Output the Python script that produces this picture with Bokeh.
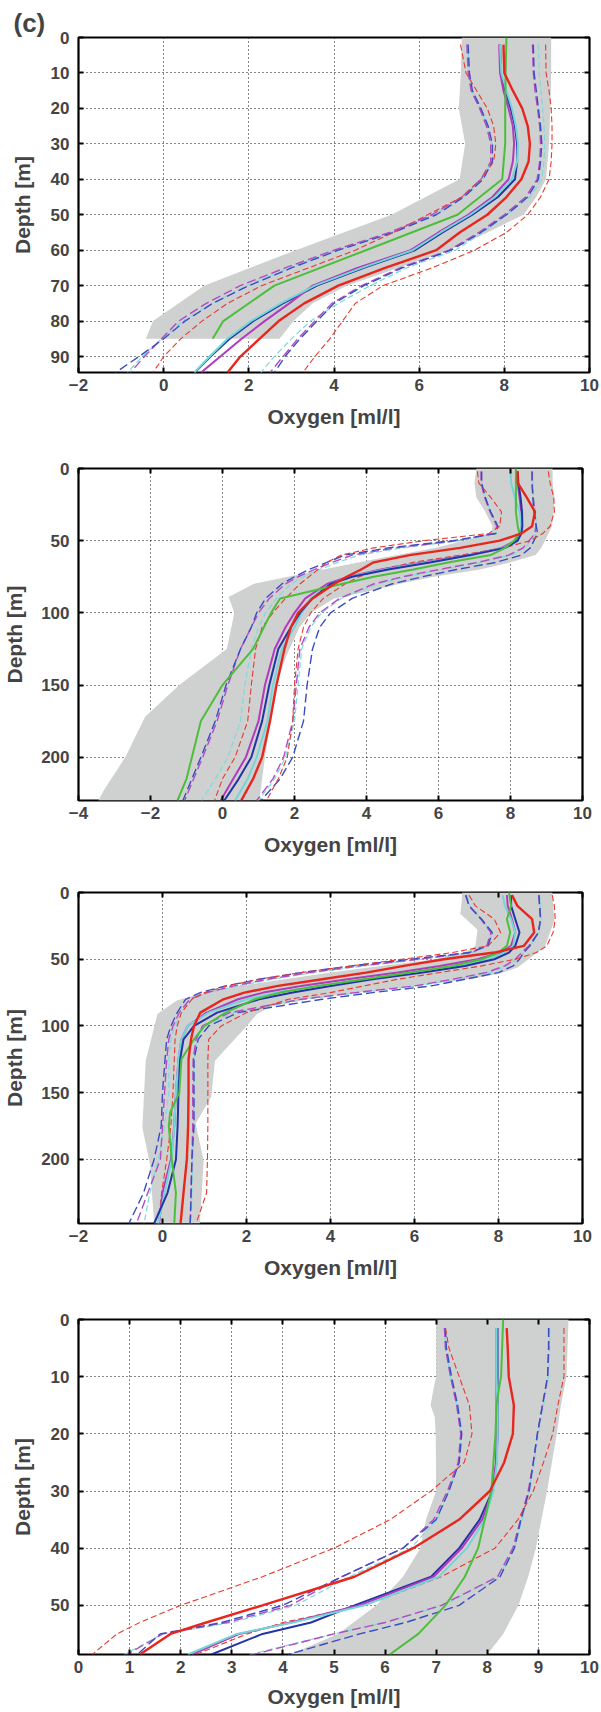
from bokeh.plotting import figure
from bokeh.models import Range1d, FixedTicker, LinearAxis
from bokeh.layouts import column
from bokeh.embed import file_html
from bokeh.resources import INLINE

# ---------------- Panel 1 ----------------
P1_DEPTH = [2, 10, 15, 20, 25, 30, 35, 40, 45, 50, 55, 60, 65, 70, 75, 80, 85, 90, 94.5]
P1_RED = [7.98, 8.0, 8.2, 8.42, 8.55, 8.6, 8.57, 8.4, 8.05, 7.6, 6.95, 6.4, 5.2, 4.1, 3.3, 2.7, 2.25, 1.8, 1.5]
P1_CYAN = [7.9, 7.93, 8.05, 8.18, 8.27, 8.32, 8.3, 8.18, 7.78, 7.2, 6.5, 5.85, 4.65, 3.55, 2.75, 2.05, 1.5, 1.08, 0.72]
P1_MAGENTA = [7.88, 7.9, 7.98, 8.1, 8.2, 8.23, 8.2, 8.1, 7.72, 7.15, 6.45, 5.8, 4.55, 3.5, 2.95, 2.37, 1.83, 1.33, 0.88]
P1_BLUE = [7.9, 7.92, 8.02, 8.15, 8.25, 8.3, 8.3, 8.25, 7.85, 7.25, 6.55, 5.9, 4.7, 3.6, 2.8, 2.1, 1.55, 1.1, 0.73]
P1_GREEN_DEPTH = [0, 10, 20, 30, 40, 50, 60, 70, 80, 85]
P1_GREEN = [8.05, 8.03, 8.02, 8.02, 7.95, 6.9, 4.75, 2.6, 1.4, 1.15]
P1_RED_LO = [6.97, 7.1, 7.35, 7.6, 7.75, 7.8, 7.75, 7.45, 7.0, 6.2, 5.4, 4.5, 3.4, 2.3, 1.5, 0.9, 0.4, 0.0, -0.25]
P1_BLUE_LO = [7.15, 7.18, 7.25, 7.45, 7.62, 7.72, 7.72, 7.5, 7.05, 6.4, 5.4, 4.1, 3.0, 2.0, 1.15, 0.5, 0.0, -0.58, -1.13]
P1_MAGENTA_LO = [7.12, 7.15, 7.22, 7.42, 7.58, 7.68, 7.68, 7.45, 7.0, 6.3, 5.3, 4.0, 2.85, 1.8, 1.0, 0.35, -0.05, -0.45, -0.78]
P1_CYAN_LO = [7.15, 7.17, 7.24, 7.44, 7.6, 7.7, 7.7, 7.48, 7.03, 6.35, 5.35, 4.05, 2.95, 1.95, 1.15, 0.45, -0.05, -0.5, -0.85]
P1_RED_HI = [8.97, 8.98, 9.05, 9.1, 9.12, 9.12, 9.1, 9.05, 8.85, 8.55, 8.05, 7.3, 6.3, 5.15, 4.5, 4.2, 3.9, 3.55, 3.27]
P1_BLUE_HI = [8.68, 8.7, 8.75, 8.8, 8.85, 8.88, 8.85, 8.8, 8.55, 8.05, 7.45, 6.75, 5.6, 4.7, 4.0, 3.6, 3.2, 2.85, 2.6]
P1_MAGENTA_HI = [8.66, 8.68, 8.72, 8.78, 8.83, 8.85, 8.83, 8.77, 8.5, 8.0, 7.4, 6.7, 5.55, 4.65, 3.95, 3.55, 3.15, 2.8, 2.5]
P1_CYAN_HI = [8.8, 8.82, 8.86, 8.9, 8.93, 8.95, 8.93, 8.88, 8.6, 8.05, 7.5, 6.85, 5.7, 4.85, 4.1, 3.45, 3.0, 2.6, 2.28]
P1_BAND_LO_DEPTH = [0, 10, 20, 30, 40, 50, 60, 70, 80, 85]
P1_BAND_LO = [7.0, 6.98, 6.93, 7.08, 6.95, 5.35, 3.1, 0.95, -0.25, -0.42]
P1_BAND_HI_DEPTH = [0, 10, 20, 30, 40, 45, 50, 55, 60, 65, 70, 75, 80, 85]
P1_BAND_HI = [9.1, 9.1, 9.08, 9.05, 8.98, 8.75, 8.45, 7.6, 6.7, 5.5, 4.3, 3.5, 3.05, 2.72]
P1_XTICKS = [-2, 0, 2, 4, 6, 8, 10]
P1_YTICKS = [0, 10, 20, 30, 40, 50, 60, 70, 80, 90]

# ---------------- Panel 2 ----------------
P2_DEPTH = [2, 10, 20, 30, 40, 45, 50, 55, 60, 65, 70, 75, 80, 90, 100, 110, 125, 150, 175, 200, 215, 230]
P2_RED = [8.2, 8.2, 8.45, 8.68, 8.6, 8.3, 7.7, 6.6, 5.2, 4.2, 3.85, 3.45, 3.1, 2.5, 2.1, 1.9, 1.72, 1.5, 1.32, 1.1, 0.85, 0.52]
P2_BLUE = [8.2, 8.22, 8.28, 8.32, 8.33, 8.3, 8.2, 7.85, 6.9, 5.8, 4.6, 3.6, 3.0, 2.5, 2.15, 1.9, 1.55, 1.3, 1.1, 0.8, 0.45, 0.05]
P2_MAGENTA = [8.18, 8.2, 8.25, 8.3, 8.3, 8.27, 8.15, 7.75, 6.85, 5.6, 4.4, 3.5, 2.9, 2.3, 2.0, 1.75, 1.45, 1.18, 1.0, 0.65, 0.3, -0.05]
P2_CYAN = [8.0, 8.02, 8.12, 8.25, 8.3, 8.28, 8.2, 7.8, 6.95, 5.7, 4.5, 3.55, 3.0, 2.45, 2.2, 2.0, 1.65, 1.4, 1.25, 0.95, 0.7, 0.35]
P2_GREEN_DEPTH = [0, 10, 20, 30, 40, 45, 50, 55, 60, 65, 70, 75, 80, 90, 100, 110, 125, 150, 175, 200, 215, 230]
P2_GREEN = [8.15, 8.15, 8.15, 8.15, 8.2, 8.25, 8.1, 7.85, 7.45, 6.3, 5.3, 4.2, 3.3, 1.6, 1.35, 1.15, 0.85, 0.0, -0.6, -0.85, -1.0, -1.25]
P2_RED_LO = [7.08, 7.12, 7.45, 7.75, 7.7, 7.4, 5.6, 4.2, 3.3, 2.9, 2.65, 2.4, 2.15, 1.75, 1.4, 1.1, 0.92, 0.8, 0.7, 0.35, 0.0, -0.22]
P2_BLUE_LO = [7.2, 7.2, 7.3, 7.45, 7.65, 7.6, 6.4, 4.6, 3.4, 2.9, 2.4, 2.0, 1.65, 1.2, 0.95, 0.8, 0.5, 0.1, -0.2, -0.6, -0.85, -1.1]
P2_MAGENTA_LO = [7.18, 7.18, 7.28, 7.43, 7.62, 7.55, 6.5, 4.8, 3.6, 3.05, 2.55, 2.1, 1.75, 1.3, 1.0, 0.8, 0.5, 0.15, -0.15, -0.55, -0.8, -1.05]
P2_CYAN_LO = [7.15, 7.2, 7.3, 7.45, 7.62, 7.6, 6.6, 5.0, 3.8, 3.2, 2.7, 2.25, 1.9, 1.5, 1.2, 1.0, 0.8, 0.62, 0.5, 0.15, -0.2, -0.58]
P2_RED_HI = [9.05, 9.1, 9.2, 9.22, 9.1, 8.9, 8.55, 7.8, 6.6, 5.3, 4.4, 3.8, 3.4, 2.8, 2.45, 2.25, 2.1, 2.0, 1.95, 1.8, 1.55, 1.22]
P2_BLUE_HI = [8.6, 8.6, 8.62, 8.65, 8.72, 8.75, 8.65, 8.55, 8.3, 7.6, 6.5, 5.55, 4.7, 3.6, 3.0, 2.7, 2.5, 2.35, 2.25, 1.95, 1.6, 1.07]
P2_MAGENTA_HI = [8.6, 8.6, 8.63, 8.68, 8.7, 8.68, 8.52, 8.35, 7.95, 7.1, 6.0, 5.0, 4.2, 3.25, 2.7, 2.4, 2.15, 2.05, 1.95, 1.7, 1.4, 0.95]
P2_CYAN_HI = [8.62, 8.62, 8.65, 8.7, 8.72, 8.7, 8.55, 8.4, 8.0, 7.2, 6.1, 5.1, 4.3, 3.3, 2.75, 2.45, 2.2, 2.1, 2.0, 1.75, 1.45, 1.0]
P2_BAND_LO_DEPTH = [0, 10, 20, 30, 40, 45, 50, 55, 62, 69, 80, 89, 100, 125, 150, 172, 200, 223, 230]
P2_BAND_LO = [7.05, 7.0, 7.05, 7.3, 7.5, 7.47, 6.7, 5.9, 4.4, 3.0, 0.86, 0.17, 0.33, 0.12, -1.2, -2.15, -2.7, -3.3, -3.45]
P2_BAND_HI_DEPTH = [0, 10, 20, 30, 40, 50, 55, 60, 65, 70, 75, 80, 85, 90, 100, 110, 130, 150, 200, 230]
P2_BAND_HI = [9.17, 9.17, 9.22, 9.2, 9.15, 8.96, 8.85, 8.7, 8.0, 7.15, 5.87, 4.9, 4.06, 3.1, 2.46, 2.14, 1.77, 1.5, 1.18, 1.02]
P2_XTICKS = [-4, -2, 0, 2, 4, 6, 8, 10]
P2_YTICKS = [0, 50, 100, 150, 200]

# ---------------- Panel 3 ----------------
P3_DEPTH = [2, 10, 20, 30, 40, 45, 50, 55, 60, 65, 70, 75, 80, 90, 100, 110, 125, 150, 175, 200, 225, 248]
P3_RED = [8.32, 8.45, 8.8, 8.85, 8.6, 7.9, 6.7, 5.75, 4.85, 3.8, 2.75, 1.95, 1.45, 0.9, 0.75, 0.68, 0.62, 0.62, 0.61, 0.58, 0.5, 0.43]
P3_BLUE = [8.3, 8.3, 8.4, 8.5, 8.4, 8.25, 7.9, 7.2, 6.2, 5.0, 4.0, 3.1, 2.3, 1.3, 0.75, 0.5, 0.42, 0.38, 0.36, 0.32, 0.12, -0.2]
P3_CYAN = [8.1, 8.15, 8.3, 8.4, 8.35, 8.15, 7.75, 7.0, 6.0, 4.8, 3.7, 2.7, 2.0, 1.1, 0.6, 0.45, 0.38, 0.32, 0.28, 0.22, 0.05, -0.1]
P3_MAGENTA = [8.2, 8.22, 8.32, 8.4, 8.3, 8.05, 7.5, 6.6, 5.6, 4.4, 3.3, 2.4, 1.8, 1.05, 0.6, 0.45, 0.38, 0.32, 0.28, 0.2, 0.0, -0.08]
P3_GREEN_DEPTH = [0, 10, 15, 20, 30, 40, 45, 50, 55, 60, 65, 70, 75, 80, 90, 100, 110, 125, 150, 165, 175, 200, 225, 248]
P3_GREEN = [8.25, 8.3, 8.25, 8.2, 8.28, 8.2, 8.0, 7.6, 6.9, 5.9, 4.8, 3.7, 2.8, 2.2, 1.5, 1.0, 0.75, 0.45, 0.4, 0.18, 0.15, 0.22, 0.32, 0.28]
P3_RED_LO = [7.3, 7.45, 7.9, 8.05, 7.75, 6.9, 5.7, 4.5, 3.3, 2.3, 1.55, 1.0, 0.7, 0.45, 0.35, 0.3, 0.28, 0.25, 0.2, 0.1, -0.02, -0.1]
P3_BLUE_LO = [7.22, 7.3, 7.6, 7.85, 7.75, 7.3, 5.9, 4.5, 3.3, 2.3, 1.5, 0.9, 0.55, 0.35, 0.2, 0.1, 0.06, 0.0, -0.03, -0.2, -0.45, -0.8]
P3_MAGENTA_LO = [7.22, 7.3, 7.58, 7.82, 7.72, 7.35, 6.1, 4.7, 3.5, 2.5, 1.7, 1.05, 0.65, 0.4, 0.25, 0.15, 0.1, 0.05, 0.0, -0.05, -0.35, -0.62]
P3_CYAN_LO = [7.25, 7.32, 7.6, 7.85, 7.75, 7.4, 6.2, 4.8, 3.6, 2.6, 1.8, 1.1, 0.7, 0.45, 0.3, 0.2, 0.15, 0.15, 0.05, -0.1, -0.3, -0.44]
P3_RED_HI = [9.28, 9.33, 9.35, 9.3, 9.15, 8.9, 8.4, 7.6, 6.6, 5.6, 4.8, 4.0, 3.0, 2.0, 1.4, 1.1, 1.08, 1.08, 1.08, 1.07, 1.05, 0.8]
P3_BLUE_HI = [8.96, 8.98, 9.0, 8.95, 8.75, 8.6, 8.5, 8.35, 8.0, 7.2, 6.4, 5.0, 3.8, 1.8, 1.1, 0.85, 0.75, 0.75, 0.75, 0.7, 0.68, 0.66]
P3_MAGENTA_HI = [8.96, 8.98, 9.0, 8.95, 8.72, 8.55, 8.4, 8.15, 7.7, 6.9, 6.0, 4.6, 3.3, 1.6, 0.95, 0.8, 0.73, 0.72, 0.72, 0.7, 0.68, 0.66]
P3_CYAN_HI = [8.98, 9.0, 9.02, 8.97, 8.75, 8.58, 8.45, 8.2, 7.8, 7.0, 6.1, 4.7, 3.4, 1.7, 1.0, 0.82, 0.75, 0.74, 0.74, 0.72, 0.7, 0.68]
P3_BAND_LO_DEPTH = [0, 5, 16, 28, 40, 45, 50, 55, 60, 65, 71, 75, 81, 91, 126, 176, 203, 248]
P3_BAND_LO = [7.13, 7.13, 7.09, 7.5, 7.45, 7.2, 6.5, 5.2, 4.0, 2.9, 1.6, 1.0, 0.34, -0.12, -0.4, -0.48, -0.3, -0.2]
P3_BAND_HI_DEPTH = [0, 21, 41, 56, 61, 65, 70, 75, 80, 85, 91, 101, 126, 153, 173, 201, 248]
P3_BAND_HI = [9.28, 9.33, 9.1, 8.46, 8.0, 7.3, 6.0, 4.6, 3.4, 2.6, 2.25, 1.98, 1.25, 1.16, 0.79, 0.98, 0.89]
P3_XTICKS = [-2, 0, 2, 4, 6, 8, 10]
P3_YTICKS = [0, 50, 100, 150, 200]

# ---------------- Panel 4 ----------------
P4_DEPTH = [1.5, 5, 10, 15, 20, 25, 30, 35, 40, 45, 50, 53, 55, 58.6]
P4_RED = [8.38, 8.4, 8.42, 8.52, 8.5, 8.33, 8.05, 7.45, 6.55, 5.4, 3.6, 2.5, 1.8, 1.2]
P4_BLUE = [8.2, 8.2, 8.2, 8.2, 8.2, 8.18, 8.1, 7.85, 7.45, 6.9, 5.4, 4.55, 3.6, 2.6]
P4_MAGENTA = [8.18, 8.18, 8.18, 8.18, 8.18, 8.17, 8.1, 7.9, 7.5, 6.95, 5.5, 4.15, 3.15, 2.22]
P4_CYAN = [8.18, 8.18, 8.18, 8.2, 8.2, 8.19, 8.12, 7.95, 7.6, 7.05, 5.6, 4.2, 3.1, 2.14]
P4_GREEN_DEPTH = [0, 10, 12, 15, 20, 30, 40, 45, 50, 55, 58.6]
P4_GREEN = [8.31, 8.27, 8.23, 8.18, 8.16, 8.08, 7.82, 7.56, 7.18, 6.65, 6.09]
P4_RED_LO = [7.18, 7.25, 7.45, 7.65, 7.7, 7.55, 6.9, 6.1, 5.0, 3.6, 2.0, 1.2, 0.75, 0.27]
P4_BLUE_LO = [7.18, 7.2, 7.3, 7.42, 7.5, 7.45, 7.25, 7.0, 6.35, 5.15, 4.0, 2.8, 1.6, 1.15]
P4_MAGENTA_LO = [7.16, 7.18, 7.28, 7.4, 7.48, 7.43, 7.22, 6.95, 6.35, 5.15, 4.15, 2.9, 1.65, 0.95]
P4_CYAN_LO = [7.16, 7.18, 7.28, 7.4, 7.48, 7.45, 7.25, 7.02, 6.5, 5.3, 4.25, 3.0, 1.65, 0.9]
P4_RED_HI = [9.5, 9.5, 9.5, 9.38, 9.28, 9.1, 8.9, 8.6, 8.15, 7.1, 5.6, 4.0, 3.3, 2.3]
P4_BLUE_HI = [9.2, 9.2, 9.18, 9.08, 8.98, 8.9, 8.82, 8.66, 8.53, 8.25, 7.45, 6.4, 5.5, 4.1]
P4_MAGENTA_HI = [9.2, 9.2, 9.18, 9.08, 8.98, 8.9, 8.8, 8.65, 8.5, 8.2, 7.1, 6.0, 5.0, 3.42]
P4_CYAN_HI = [9.22, 9.22, 9.2, 9.1, 9.0, 8.92, 8.82, 8.68, 8.53, 8.22, 7.15, 6.0, 5.0, 3.35]
P4_BAND_LO_DEPTH = [0, 10, 12, 15, 17, 20, 30, 35, 40, 45, 50, 55, 58.6]
P4_BAND_LO = [7.0, 7.0, 6.95, 6.89, 6.97, 6.99, 7.0, 6.8, 6.69, 6.35, 5.83, 5.08, 4.14]
P4_BAND_HI_DEPTH = [0, 10, 15, 20, 30, 40, 45, 50, 55, 58.6]
P4_BAND_HI = [9.59, 9.55, 9.44, 9.36, 9.17, 8.95, 8.8, 8.61, 8.31, 8.0]
P4_XTICKS = [0, 1, 2, 3, 4, 5, 6, 7, 8, 9, 10]
P4_YTICKS = [0, 10, 20, 30, 40, 50]

X_LABEL = "Oxygen [ml/l]"
Y_LABEL = "Depth [m]"
PANEL_TAG = "(c)"

FONT = "Liberation Sans"
BAND_COLOR = "#cfd0d0"
SOLID = {"red": "#e8261e", "green": "#4dbe3c", "magenta": "#b03cbd",
         "cyan": "#72d6d6", "blue": "#2433a6"}
DASHED = {"red": "#e8392e", "magenta": "#b24cc2", "cyan": "#7fdada", "blue": "#3a4cc4"}


def tick_text(v):
    return ("\u2212" + str(abs(v))) if v < 0 else str(v)


def make_panel(xr, ymax, xticks, yticks, fw, fh, bt, bb, br,
               band, dashed, solids, green, y_std, y_lab_std, x_lab_std,
               x_std=6, top_ticks=True):
    p = figure(frame_width=fw, frame_height=fh,
               x_range=Range1d(*xr), y_range=Range1d(ymax, 0),
               output_backend="svg", toolbar_location=None,
               min_border_left=78, min_border_right=br,
               min_border_top=bt, min_border_bottom=bb,
               background_fill_color="white", border_fill_color="white",
               outline_line_color="black", outline_line_width=2.2)
    p.xaxis.ticker = FixedTicker(ticks=xticks)
    p.yaxis.ticker = FixedTicker(ticks=yticks)
    p.xgrid.ticker = FixedTicker(ticks=xticks)
    p.ygrid.ticker = FixedTicker(ticks=yticks)
    p.grid.grid_line_color = "#111111"
    p.grid.grid_line_dash = "1 3"
    p.grid.grid_line_width = 1
    p.xaxis.major_label_overrides = {t: tick_text(t) for t in xticks}
    p.yaxis.major_label_overrides = {t: tick_text(t) for t in yticks}
    for ax, lab, std, lstd in ((p.xaxis, X_LABEL, x_std, x_lab_std),
                               (p.yaxis, Y_LABEL, y_std, y_lab_std)):
        ax.axis_label = lab
        ax.axis_line_color = None
        ax.major_tick_in = 5
        ax.major_tick_out = 0
        ax.major_tick_line_width = 2
        ax.minor_tick_line_color = None
        ax.major_label_standoff = std
        ax.axis_label_standoff = lstd
        ax.major_label_text_font = FONT
        ax.major_label_text_font_style = "bold"
        ax.major_label_text_font_size = "17px"
        ax.axis_label_text_font = FONT
        ax.axis_label_text_font_style = "bold"
        ax.axis_label_text_font_size = "21px"
    # inner ticks on the opposite sides
    sides = [("right", yticks)]
    if top_ticks:
        sides.append(("above", xticks))
    for side, ticks in sides:
        ax = LinearAxis(ticker=FixedTicker(ticks=ticks),
                        major_label_overrides={t: "" for t in ticks},
                        major_label_text_font_size="1px", major_label_standoff=0,
                        major_tick_in=5, major_tick_out=0, major_tick_line_width=2,
                        minor_tick_line_color=None, axis_line_color=None)
        p.add_layout(ax, side)

    lo_d, lo_x, hi_d, hi_x = band
    p.patch(x=lo_x + hi_x[::-1], y=lo_d + hi_d[::-1],
            fill_color=BAND_COLOR, line_color=None)

    depth = dashed[0]
    for name, lo, hi in dashed[1]:
        if name == "red":
            w, dash = 1.1, "6 3"
        elif name == "cyan":
            w, dash = 1.2, "6 3"
        else:
            w, dash = 1.4, "9 4"
        for arr in (lo, hi):
            p.line(x=arr, y=depth, line_color=DASHED[name], line_width=w, line_dash=dash)

    for name, arr in solids[:3]:
        p.line(x=arr, y=depth, line_color=SOLID[name], line_width=2.0)
    p.line(x=green[1], y=green[0], line_color=SOLID["green"], line_width=2.0)
    for name, arr in solids[3:]:
        p.line(x=arr, y=depth, line_color=SOLID[name], line_width=2.4)
    return p


p1 = make_panel((-2, 10), 94.5, P1_XTICKS, P1_YTICKS, 511, 335, 37, 60, 12,
                (P1_BAND_LO_DEPTH, P1_BAND_LO, P1_BAND_HI_DEPTH, P1_BAND_HI),
                (P1_DEPTH, [("cyan", P1_CYAN_LO, P1_CYAN_HI), ("magenta", P1_MAGENTA_LO, P1_MAGENTA_HI),
                            ("blue", P1_BLUE_LO, P1_BLUE_HI), ("red", P1_RED_LO, P1_RED_HI)]),
                [("blue", P1_BLUE), ("magenta", P1_MAGENTA), ("cyan", P1_CYAN), ("red", P1_RED)],
                (P1_GREEN_DEPTH, P1_GREEN), 9, 14, 11, top_ticks=False)
p1.title.text = PANEL_TAG
p1.title.align = "left"
p1.title.offset = -65
p1.title.standoff = 0
p1.title.text_font = FONT
p1.title.text_font_style = "bold"
p1.title.text_font_size = "26px"

p2 = make_panel((-4, 10), 230, P2_XTICKS, P2_YTICKS, 504, 332, 36, 60, 19,
                (P2_BAND_LO_DEPTH, P2_BAND_LO, P2_BAND_HI_DEPTH, P2_BAND_HI),
                (P2_DEPTH, [("cyan", P2_CYAN_LO, P2_CYAN_HI), ("magenta", P2_MAGENTA_LO, P2_MAGENTA_HI),
                            ("blue", P2_BLUE_LO, P2_BLUE_HI), ("red", P2_RED_LO, P2_RED_HI)]),
                [("magenta", P2_MAGENTA), ("cyan", P2_CYAN), ("blue", P2_BLUE), ("red", P2_RED)],
                (P2_GREEN_DEPTH, P2_GREEN), 9, 12, 11)

p3 = make_panel((-2, 10), 248, P3_XTICKS, P3_YTICKS, 504, 331, 32, 60, 19,
                (P3_BAND_LO_DEPTH, P3_BAND_LO, P3_BAND_HI_DEPTH, P3_BAND_HI),
                (P3_DEPTH, [("cyan", P3_CYAN_LO, P3_CYAN_HI), ("magenta", P3_MAGENTA_LO, P3_MAGENTA_HI),
                            ("blue", P3_BLUE_LO, P3_BLUE_HI), ("red", P3_RED_LO, P3_RED_HI)]),
                [("magenta", P3_MAGENTA), ("cyan", P3_CYAN), ("blue", P3_BLUE), ("red", P3_RED)],
                (P3_GREEN_DEPTH, P3_GREEN), 9, 12, 11)

p4 = make_panel((0, 10), 58.6, P4_XTICKS, P4_YTICKS, 511, 335, 36, 58, 12,
                (P4_BAND_LO_DEPTH, P4_BAND_LO, P4_BAND_HI_DEPTH, P4_BAND_HI),
                (P4_DEPTH, [("cyan", P4_CYAN_LO, P4_CYAN_HI), ("magenta", P4_MAGENTA_LO, P4_MAGENTA_HI),
                            ("blue", P4_BLUE_LO, P4_BLUE_HI), ("red", P4_RED_LO, P4_RED_HI)]),
                [("blue", P4_BLUE), ("magenta", P4_MAGENTA), ("cyan", P4_CYAN), ("red", P4_RED)],
                (P4_GREEN_DEPTH, P4_GREEN), 9, 14, 9)

layout = column(p1, p2, p3, p4)
open("out.html", "w").write(file_html(layout, INLINE))
